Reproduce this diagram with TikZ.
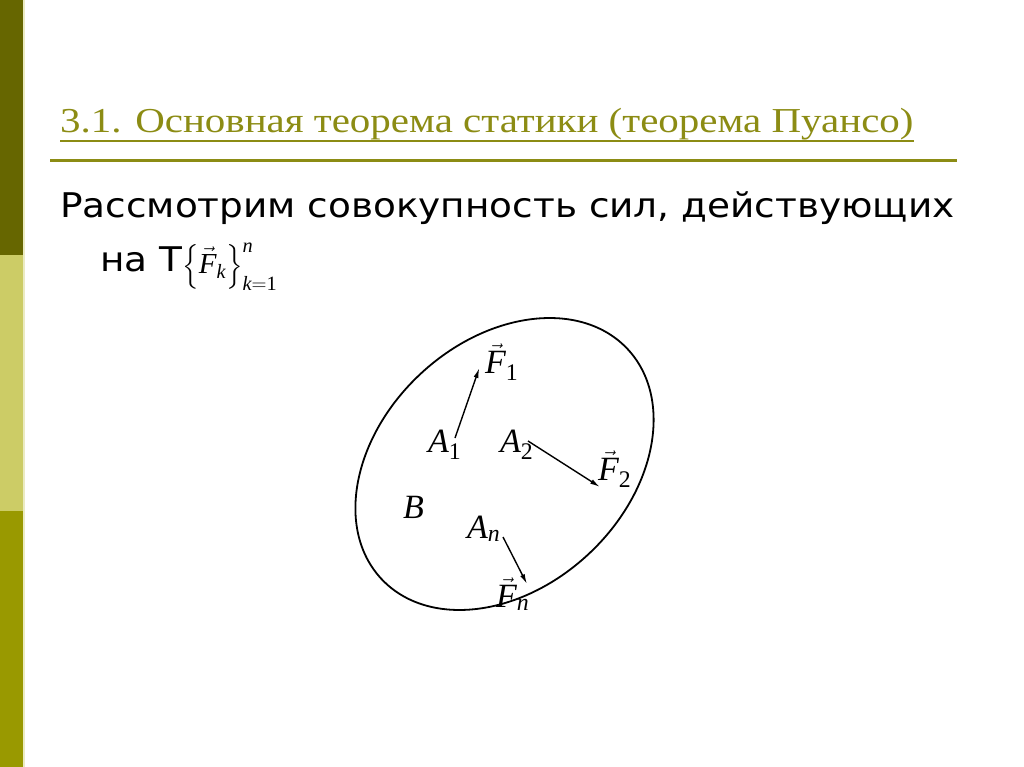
\documentclass[tikz,border=0pt]{standalone}
\usepackage{amsmath}
\usepackage{fontspec}
\setmainfont{Liberation Serif}
\newfontfamily\bodyfont{DejaVu Sans}
\usetikzlibrary{arrows.meta}
\definecolor{barDark}{RGB}{102,102,0}
\definecolor{barLight}{RGB}{204,204,102}
\definecolor{barMid}{RGB}{153,153,0}
\definecolor{titleOlive}{RGB}{140,140,20}
\newcommand{\vF}[1]{$\vec{\textit{F}}_{#1}$}
\newcommand{\pA}[1]{$\textit{A}_{#1}$}

\begin{document}
\begin{tikzpicture}[x=1pt,y=-1pt]
	\tikzstyle{every node}+=[inner sep=0pt]
	\tikzstyle{lab}=[anchor=base west,font=\fontsize{34}{34}\selectfont]
	\tikzstyle{force}=[-{Latex[length=10pt,width=5pt]},line width=1.4pt]
	\useasboundingbox (0,0) rectangle (1024,767);
	\fill [white] (0,0) rectangle (1024,767);
	\fill [barDark] (0,0) rectangle (23,255);
	\fill [barLight] (0,255) rectangle (23,511);
	\fill [barMid] (0,511) rectangle (23,767);
	\fill [barLight!40] (23,0) rectangle (24.5,767);
	\draw (60,133) node [anchor=base west,xscale=1.17,text=titleOlive,font=\fontsize{35}{35}\selectfont] (title) {3.1. Основная теорема статики (теорема Пуансо)};
	\draw [titleOlive,line width=1.8pt] ([yshift=-8pt]title.base west) -- ([yshift=-8pt]title.base east);
	\draw [titleOlive,line width=2.8pt] (50,160.5) -- (957,160.5);
	\draw (60,218) node [anchor=base west,xscale=1.1,font=\bodyfont\fontsize{34}{34}\selectfont] (line1) {Рассмотрим совокупность сил, действующих};
	\draw (100,271) node [anchor=base west,xscale=1.1,font=\bodyfont\fontsize{34}{34}\selectfont] (line2) {на Т};
	\draw (182,273) node [anchor=base west,font=\fontsize{29}{29}\selectfont] (set) {$\Bigl\{\vec{\textit{F}}_{\textit{k}}\Bigr\}_{\textit{k}=\text{1}}^{\textit{n}}$};
	\coordinate (ctr) at (504.5,464);
	\draw [line width=1.8pt,rotate around={43:(ctr)}] (ctr) ellipse (168.4 and 123.2);
	\draw (485,373) node [lab] (F1) {\vF{\text{1}}};
	\draw (428,452) node [lab] (A1) {\pA{\text{1}}};
	\draw (500,452) node [lab] (A2) {\pA{\text{2}}};
	\draw (598,480) node [lab] (F2) {\vF{\text{2}}};
	\draw (403,518) node [lab] (B) {\textit{B}};
	\draw (467,538) node [lab] (An) {\pA{\textit{n}}};
	\draw (496,607) node [lab] (Fn) {\vF{\textit{n}}};
	\coordinate (t1) at (455,438);
	\coordinate (h1) at (479.3,368);
	\coordinate (t2) at (528,441);
	\coordinate (h2) at (600,487);
	\coordinate (tn) at (503,537);
	\coordinate (hn) at (527,584);
	\draw [force] (t1) -- (h1);
	\draw [force] (t2) -- (h2);
	\draw [force] (tn) -- (hn);
\end{tikzpicture}
\end{document}
